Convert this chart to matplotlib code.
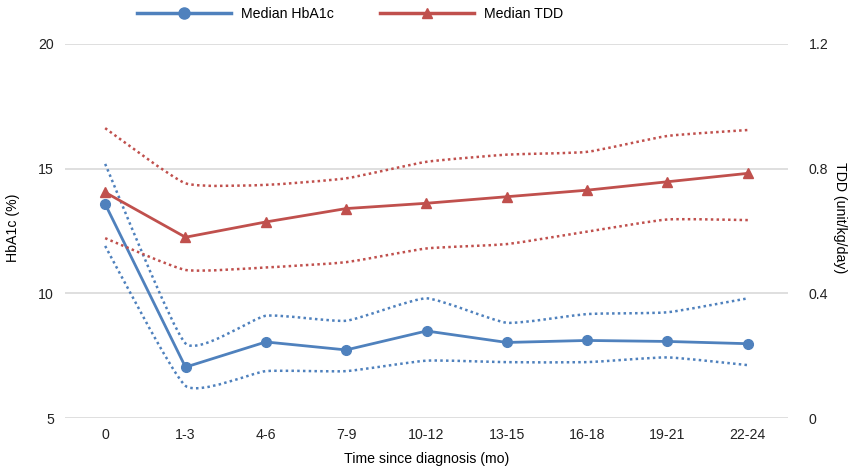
import matplotlib
matplotlib.use("Agg")
import matplotlib.pyplot as plt
from matplotlib.path import Path
from matplotlib.patches import PathPatch
from matplotlib.lines import Line2D
import numpy as np

plt.rcParams['font.family'] = ['Liberation Sans', 'DejaVu Sans']

categories = ["0", "1-3", "4-6", "7-9", "10-12", "13-15", "16-18", "19-21", "22-24"]
hba1c_median = [13.58, 7.04, 8.05, 7.73, 8.49, 8.03, 8.11, 8.07, 7.98]
hba1c_upper = [15.19, 7.99, 9.10, 8.90, 9.80, 8.82, 9.17, 9.24, 9.80]
hba1c_lower = [11.90, 6.29, 6.88, 6.88, 7.30, 7.24, 7.24, 7.43, 7.12]
tdd_median = [0.724, 0.580, 0.629, 0.672, 0.689, 0.710, 0.731, 0.758, 0.785]
tdd_upper = [0.930, 0.753, 0.748, 0.769, 0.822, 0.845, 0.854, 0.905, 0.924]
tdd_lower = [0.577, 0.475, 0.483, 0.500, 0.544, 0.558, 0.598, 0.637, 0.635]

blue = "#4F81BD"
red = "#C0504D"


def smooth_path(xs, ys, t=0.08):
    # gentle Catmull-Rom style smoothing as cubic Bezier segments (rendering only)
    xs = np.asarray(xs, float)
    ys = np.asarray(ys, float)
    n = len(xs)
    verts = [(xs[0], ys[0])]
    codes = [Path.MOVETO]
    for i in range(n - 1):
        x0, y0 = (xs[i - 1], ys[i - 1]) if i > 0 else (xs[i], ys[i])
        x1, y1 = xs[i], ys[i]
        x2, y2 = xs[i + 1], ys[i + 1]
        x3, y3 = (xs[i + 2], ys[i + 2]) if i + 2 < n else (xs[i + 1], ys[i + 1])
        c1 = (x1 + (x2 - x0) * t, y1 + (y2 - y0) * t)
        c2 = (x2 - (x3 - x1) * t, y2 - (y3 - y1) * t)
        verts += [c1, c2, (x2, y2)]
        codes += [Path.CURVE4] * 3
    return Path(verts, codes)


fig = plt.figure(figsize=(8.5, 4.7), dpi=100)
ax = fig.add_axes([65 / 850, 1 - 418 / 470, (788 - 65) / 850, (418 - 44) / 470])
ax2 = ax.twinx()

x = np.arange(len(categories))

ax.set_xlim(-0.5, len(categories) - 0.5)
ax.set_ylim(5, 20)
ax.set_yticks([5, 10, 15, 20])
ax2.set_ylim(0, 1.2)
ax2.set_yticks([0, 0.4, 0.8, 1.2])
ax2.set_yticklabels(["0", "0.4", "0.8", "1.2"])
ax.set_xticks(x)
ax.set_xticklabels(categories)

fs = 10.2
ax.grid(axis='y', color='#D9D9D9', linewidth=1.2)
ax.set_axisbelow(True)
for a in (ax, ax2):
    for s in a.spines.values():
        s.set_visible(False)
    a.tick_params(length=0, labelsize=fs, colors='#222222')
ax.tick_params(axis='y', pad=8)
ax.tick_params(axis='x', pad=7)
ax2.tick_params(axis='y', pad=15)

dot = (0, (1, 1.3))
for ys, a, c in [(hba1c_upper, ax, blue), (hba1c_lower, ax, blue),
                 (tdd_upper, ax2, red), (tdd_lower, ax2, red)]:
    p = PathPatch(smooth_path(x, ys), facecolor='none', edgecolor=c,
                  linewidth=1.8, linestyle=dot, capstyle='butt')
    a.add_patch(p)

ax.plot(x, hba1c_median, color=blue, linewidth=2, marker='o', markersize=7)
ax2.plot(x, tdd_median, color=red, linewidth=2, marker='^', markersize=7.5)

ax.set_ylabel("HbA1c (%)", fontsize=fs)
ax.yaxis.set_label_coords((20 - 65) / 723, (418 - 228) / 374)
ax2.set_ylabel("TDD (unit/kg/day)", fontsize=fs, rotation=-90, va='center')
ax2.yaxis.set_label_coords((840 - 65) / 723, (418 - 218) / 374)
ax.set_xlabel("Time since diagnosis (mo)", fontsize=fs)
ax.xaxis.set_label_coords(0.5, (418 - 459) / 374)
ax.xaxis.label.set_va('center')

handles = [Line2D([], [], color=blue, linewidth=2.5, marker='o', markersize=8),
           Line2D([], [], color=red, linewidth=2.5, marker='^', markersize=7)]
fig.legend(handles, ["Median HbA1c", "Median TDD"], loc='center left',
           bbox_to_anchor=(137 / 850, 1 - 14 / 470), ncol=2, frameon=False,
           fontsize=fs, handlelength=6.6, columnspacing=3.3,
           handletextpad=0.72, borderpad=0, borderaxespad=0)

fig.savefig("out.png", dpi=100)
